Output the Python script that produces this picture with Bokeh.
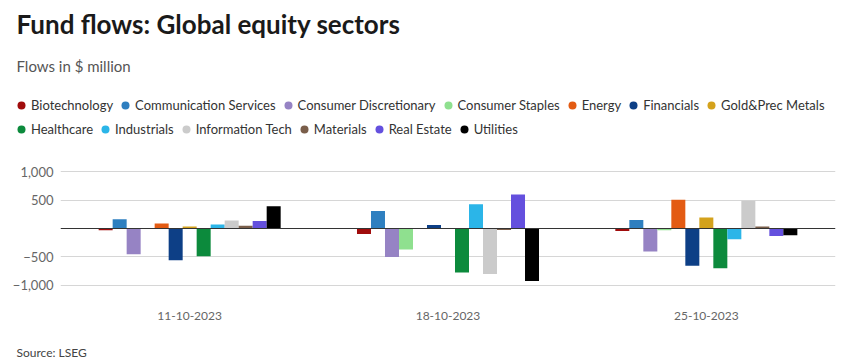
from bokeh.plotting import figure
from bokeh.layouts import column
from bokeh.models import (ColumnDataSource, FactorRange, FixedTicker, Span, Label,
                          Legend, LegendItem)
from bokeh.transform import dodge
from bokeh.embed import file_html
from bokeh.resources import INLINE

# ---------------- data ----------------
dates = ["11-10-2023", "18-10-2023", "25-10-2023"]
sectors = ["Biotechnology", "Communication Services", "Consumer Discretionary",
           "Consumer Staples", "Energy", "Financials", "Gold&Prec Metals",
           "Healthcare", "Industrials", "Information Tech", "Materials",
           "Real Estate", "Utilities"]
colors = ["#a00c0c", "#2e7fc0", "#9683c4", "#8fe08f", "#e35b13", "#0d3f86",
          "#d4a21c", "#0c8a3c", "#2bb5e8", "#cbcbcb", "#7a5e4a", "#6450de",
          "#000000"]
flows_11_10 = [-30, 165, -455, 0, 88, -560, 35, -490, 70, 140, 50, 130, 390]
flows_18_10 = [-95, 310, -500, -370, 0, 60, 0, -775, 425, -800, -25, 600, -925]
flows_25_10 = [-45, 150, -405, -30, 507, -655, 195, -700, -190, 490, 35, -130, -120]
y_ticks = [-1000, -500, 500, 1000]
y_tick_labels = ["\u22121,000", "\u2212500", "500", "1,000"]

title_text = "Fund flows: Global equity sectors"
subtitle_text = "Flows in $ million"
source_text = "Source: LSEG"

FONT = "Lato"
W = 854
HEAD_H, MAIN_H, FOOT_H = 157, 177, 30
BW = 0.0542


def blank(h):
    f = figure(width=W, height=h, x_range=(0, W), y_range=(0, h),
               output_backend="svg", toolbar_location=None, title=None,
               x_axis_location=None, y_axis_location=None,
               min_border=0, min_border_left=0, min_border_right=0,
               min_border_top=0, min_border_bottom=0, frame_align=False)
    f.grid.visible = False
    f.outline_line_color = None
    f.background_fill_color = "white"
    f.border_fill_color = "white"
    return f


# ---------------- header ----------------
head = blank(HEAD_H)
head.add_layout(Label(x=16, y=134, text=title_text, text_font=FONT,
                      text_font_size="26px", text_font_style="bold",
                      text_color="#1a1a1a", text_baseline="alphabetic"))
head.add_layout(Label(x=16, y=92, text=subtitle_text, text_font=FONT,
                      text_font_size="15px", text_color="#555555",
                      text_baseline="alphabetic"))
# legend swatches: one point per sector placed outside the visible header range
markers = [head.scatter(x=[-100], y=[-100], marker="circle", size=8,
                        fill_color=c, line_color=None)
           for c in colors]


def make_legend(idx, loc):
    leg = Legend(items=[LegendItem(label=sectors[k], renderers=[markers[k]]) for k in idx],
                 orientation="horizontal", location=loc,
                 glyph_width=20, glyph_height=20, label_height=20,
                 label_standoff=-1, spacing=2, padding=0, margin=0,
                 border_line_color=None, background_fill_alpha=0,
                 label_text_font=FONT, label_text_font_size="13px",
                 label_text_color="#333333", label_text_baseline="middle")
    head.add_layout(leg)


make_legend(range(0, 7), (11, 42))
make_legend(range(7, 13), (11, 18))

# ---------------- main chart ----------------
p = figure(x_range=FactorRange(*dates), y_range=(-1250, 1250),
           width=W, height=MAIN_H, output_backend="svg", toolbar_location=None,
           title=None, min_border_left=60, min_border_right=19,
           min_border_top=0, min_border_bottom=35, frame_align=False)
p.outline_line_color = None
p.background_fill_color = "white"
p.border_fill_color = "white"

by_date = [flows_11_10, flows_18_10, flows_25_10]
for i, (s, c) in enumerate(zip(sectors, colors)):
    src = ColumnDataSource(dict(date=dates, flow=[d[i] for d in by_date]))
    p.vbar(x=dodge("date", (i - 6) * BW, range=p.x_range), top="flow", bottom=0,
           width=BW, fill_color=c, line_color=None, source=src)

p.add_layout(Span(location=0, dimension="width", line_color="#333333", line_width=1))

p.yaxis.ticker = FixedTicker(ticks=y_ticks)
p.yaxis.major_label_overrides = dict(zip(y_ticks, y_tick_labels))
p.ygrid.ticker = FixedTicker(ticks=y_ticks)
p.ygrid.grid_line_color = "#d6d6d6"
p.xgrid.grid_line_color = None
for ax in (p.xaxis[0], p.yaxis[0]):
    ax.axis_line_color = None
    ax.major_tick_line_color = None
    ax.minor_tick_line_color = None
    ax.major_tick_out = 0
    ax.major_tick_in = 0
    ax.major_label_text_font = FONT
    ax.major_label_text_color = "#666666"
p.xaxis.major_label_text_font_size = "12px"
p.yaxis.major_label_text_font_size = "13px"
p.yaxis.major_label_standoff = 7
p.xaxis.major_label_standoff = 12

# ---------------- footer ----------------
foot = blank(FOOT_H)
foot.add_layout(Label(x=16, y=12, text=source_text, text_font=FONT,
                      text_font_size="12px", text_color="#444444",
                      text_baseline="alphabetic"))

layout = column(head, p, foot, spacing=0)
open("out.html", "w").write(file_html(layout, INLINE))
